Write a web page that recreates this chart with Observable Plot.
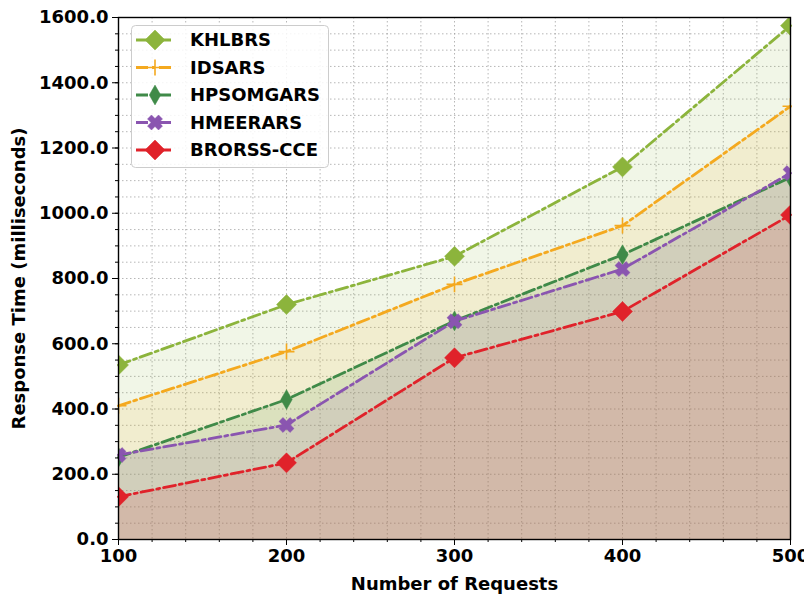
<!DOCTYPE html>
<html>
<head>
<meta charset="utf-8">
<script src="https://cdn.jsdelivr.net/npm/d3@7"></script>
<script src="https://cdn.jsdelivr.net/npm/@observablehq/plot@0.6"></script>
<style>
  body { margin: 0; background: #fff; }
  #wrap { position: relative; width: 804px; height: 596px; font-family: "DejaVu Sans", sans-serif; }
  #legend { position: absolute; left: 131px; top: 25px; }
</style>
</head>
<body>
<div id="wrap"></div>
<script>
// ---- data ----
const requests = [100, 200, 300, 400, 500];
const seriesNames = ["KHLBRS", "IDSARS", "HPSOMGARS", "HMEERARS", "BRORSS-CCE"];
const khlbrs    = [535, 720, 868, 1142, 1575];
const idsars    = [410, 576, 782, 962, 1328];
const hpsomgars = [252, 429, 670, 873, 1110];
const hmeerars  = [259, 351, 669, 829, 1123];
const brorss    = [131, 235, 557, 699, 995];
const xTicks = [100, 200, 300, 400, 500];
const yTicks = [0, 200, 400, 600, 800, 1000, 1200, 1400, 1600];

// ---- styles ----
const symbolX = {
  draw(ctx, size) {
    const a = Math.sqrt(size / Math.PI), b = a * 0.36;
    const pts = [[-b,-a],[b,-a],[b,-b],[a,-b],[a,b],[b,b],[b,a],[-b,a],[-b,b],[-a,b],[-a,-b],[-b,-b]]
      .map(([x, y]) => [(x - y) / Math.SQRT2, (x + y) / Math.SQRT2]);
    ctx.moveTo(pts[0][0], pts[0][1]);
    for (let i = 1; i < pts.length; i++) ctx.lineTo(pts[i][0], pts[i][1]);
    ctx.closePath();
  }
};
const styles = [
  {color: "#8cb43c", symbol: d3.symbolDiamond2, r: 9, filled: true},
  {color: "#f4a91f", symbol: d3.symbolPlus, r: 5.2, filled: false},
  {color: "#3f8a48", symbol: d3.symbolDiamond, r: 6, filled: true},
  {color: "#8a55b0", symbol: symbolX, r: 7.8, filled: true},
  {color: "#e0222a", symbol: d3.symbolDiamond2, r: 9, filled: true}
];
const valuesList = [khlbrs, idsars, hpsomgars, hmeerars, brorss];
const series = seriesNames.map((name, k) => ({
  name, ...styles[k],
  rows: requests.map((x, i) => ({x, y: valuesList[k][i]}))
}));

const dash = "12,4,3,4";
const font = "DejaVu Sans";

const marks = [
  Plot.gridX(d3.range(100, 501, 20), {stroke: "#999", strokeOpacity: 0.7, strokeDasharray: "1.5,2.5"}),
  Plot.gridY(d3.range(0, 1601, 50), {stroke: "#999", strokeOpacity: 0.7, strokeDasharray: "1.5,2.5"})
];
for (const s of series) {
  marks.push(Plot.areaY(s.rows, {x: "x", y: "y", fill: s.color, fillOpacity: 0.12}));
}
for (const s of series) {
  marks.push(Plot.lineY(s.rows, {x: "x", y: "y", stroke: s.color, strokeWidth: 2.8, strokeDasharray: dash}));
}
for (const s of series) {
  marks.push(Plot.dot(s.rows, {
    x: "x", y: "y", symbol: s.symbol, r: s.r, clip: true,
    fill: s.filled ? s.color : "none",
    stroke: s.color, strokeWidth: s.filled ? 0.5 : 1.6
  }));
}
marks.push(
  Plot.frame({stroke: "#000", strokeWidth: 1.4}),
  Plot.axisX(d3.range(100, 501, 20), {tickSize: 3, text: null, label: null, stroke: "#000"}),
  Plot.axisY(d3.range(0, 1601, 50), {tickSize: 3, text: null, label: null, stroke: "#000"}),
  Plot.axisX(xTicks, {
    tickSize: 6, tickPadding: 4, tickFormat: d3.format("d"),
    label: "Number of Requests", labelAnchor: "center", labelArrow: "none", labelOffset: 50,
    fontWeight: "bold", stroke: "#000"
  }),
  Plot.axisY(yTicks, {
    tickSize: 6, tickPadding: 4, tickFormat: d3.format(".1f"),
    label: "Response Time (milliseconds)", labelAnchor: "center", labelArrow: "none", labelOffset: 106,
    fontWeight: "bold", stroke: "#000"
  })
);

const chart = Plot.plot({
  width: 804, height: 596,
  marginLeft: 118, marginRight: 14, marginTop: 17, marginBottom: 57,
  style: {fontFamily: font, fontSize: "18px", fontWeight: "bold", color: "#000", background: "#fff"},
  x: {domain: [100, 500]},
  y: {domain: [0, 1600]},
  marks
});
document.getElementById("wrap").appendChild(chart);

// ---- legend (overlay) ----
const lw = 198, lh = 143, rowH = 27.5;
const leg = d3.select("#wrap").append("svg").attr("id", "legend")
  .attr("width", lw).attr("height", lh);
leg.append("rect").attr("x", 0.5).attr("y", 0.5).attr("width", lw - 1).attr("height", lh - 1)
  .attr("rx", 4).attr("fill", "#fff").attr("fill-opacity", 0.85).attr("stroke", "#ccc");
series.forEach((s, i) => {
  const g = leg.append("g").attr("transform", `translate(0,${15 + i * rowH})`);
  g.append("line").attr("x1", 5).attr("x2", 42).attr("y1", 0).attr("y2", 0)
    .attr("stroke", s.color).attr("stroke-width", 2.8).attr("stroke-dasharray", dash);
  g.append("path").attr("transform", "translate(24,0)")
    .attr("d", d3.symbol(s.symbol, s.r * s.r * Math.PI)())
    .attr("fill", s.filled ? s.color : "none").attr("stroke", s.color)
    .attr("stroke-width", s.filled ? 0.5 : 1.6);
  g.append("text").attr("x", 59).attr("y", 0).attr("dy", "0.35em")
    .attr("font-family", font).attr("font-weight", "bold").attr("font-size", 18)
    .attr("fill", "#000").text(s.name);
});
</script>
</body>
</html>
